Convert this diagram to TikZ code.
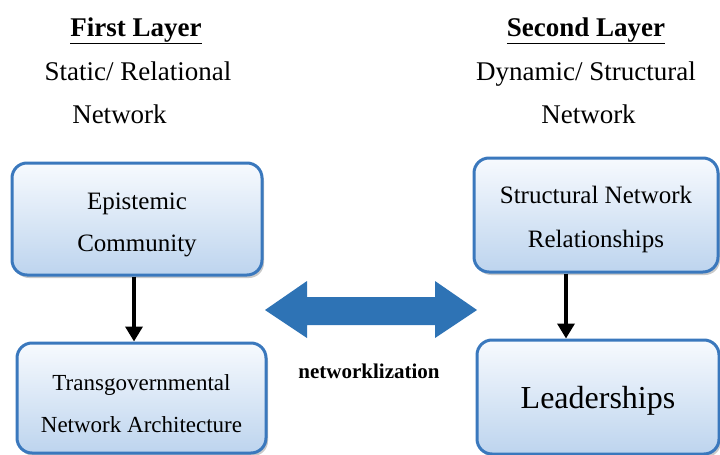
\documentclass[tikz,border=0pt]{standalone}
\usepackage{fontspec}
\setmainfont{Liberation Serif}
\usetikzlibrary{arrows.meta,shadows}

\definecolor{boxline}{HTML}{3A78BD}
\definecolor{boxtop}{HTML}{F7FAFE}
\definecolor{boxbot}{HTML}{BDD4EE}
\definecolor{bigblue}{HTML}{2E73B5}

\tikzset{
  layerbox/.style={rectangle, rounded corners=15pt, draw=boxline, line width=3pt,
    top color=boxtop, bottom color=boxbot, align=center,
    drop shadow={shadow xshift=2pt, shadow yshift=-3pt, opacity=.35, fill=black!60}},
  title/.style={anchor=base, font=\bfseries\fontsize{27}{30}\selectfont},
  subtitle/.style={anchor=base, font=\fontsize{27}{30}\selectfont},
  flow/.style={line width=3.5pt, -{Triangle[width=17pt,length=15pt]}}
}

\begin{document}
\begin{tikzpicture}[x=1pt, y=-1pt]
    \useasboundingbox (0,0) rectangle (720,455);

    % layer headings
    \node[title] (t1) at (136,36) {\underline{First Layer}};
    \node[subtitle] (s1) at (138,80) {Static/ Relational};
    \node[subtitle] (n1) at (119.5,123) {Network};

    \node[title] (t2) at (586,36) {\underline{Second Layer}};
    \node[subtitle] (s2) at (586,80) {Dynamic/ Structural};
    \node[subtitle] (n2) at (588.5,123) {Network};

    % boxes
    \node[layerbox, minimum width=250pt, minimum height=112pt,
          font=\fontsize{25}{42}\selectfont] (ec) at (137,219)
          {\rule{0pt}{29pt}Epistemic\\Community};
    \node[layerbox, minimum width=249pt, minimum height=110pt,
          font=\fontsize{23}{42}\selectfont] (tna) at (141.5,398)
          {\rule{0pt}{27pt}Transgovernmental\\Network Architecture};
    \node[layerbox, minimum width=244pt, minimum height=114pt,
          font=\fontsize{25}{44}\selectfont] (snr) at (596,215)
          {\rule{0pt}{26pt}Structural Network\\Relationships};
    \node[layerbox, minimum width=242pt, minimum height=114pt,
          font=\fontsize{32}{36}\selectfont, text depth=0pt] (lead) at (598,397)
          {Leaderships};

    % arrows inside each layer
    \draw[flow] ([xshift=-3pt]ec.south) -- ([xshift=-3pt]ec.south |- tna.north);
    \draw[flow] ([xshift=-30pt]snr.south) -- ([xshift=-30pt]snr.south |- lead.north);

    % double arrow between the layers
    \fill[bigblue] (265,310) -- (307,281) -- (307,297) -- (435,297) -- (435,281)
        -- (477,310) -- (435,338) -- (435,325) -- (307,325) -- (307,338) -- cycle;
    \node[anchor=base, font=\bfseries\fontsize{21}{24}\selectfont] (nz) at (369,378) {networklization};

\end{tikzpicture}
\end{document}
